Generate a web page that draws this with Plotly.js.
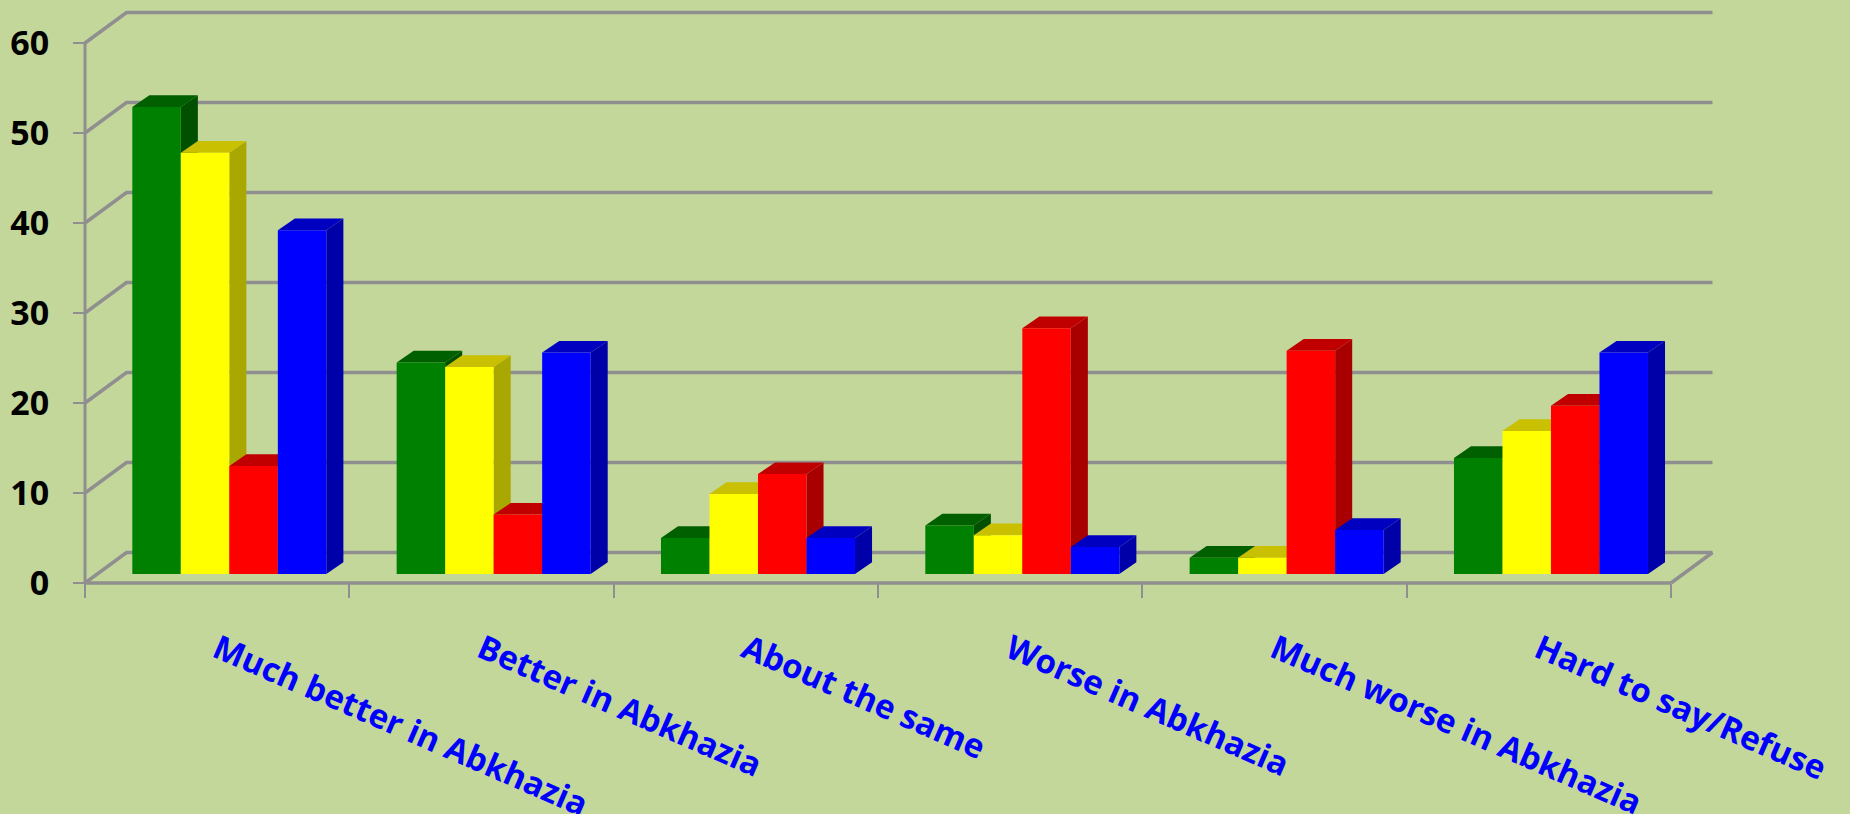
<!DOCTYPE html>
<html>
<head>
<meta charset="utf-8">
<script src="https://cdn.plot.ly/plotly-3.0.1.min.js"></script>
<style>html,body{margin:0;padding:0;background:#C4D79B;overflow:hidden}#chart{width:1850px;height:814px}</style>
</head>
<body>
<div id="chart"></div>
<script>
// Survey answers, percent of respondents per category
const categories = ['Much better in Abkhazia', 'Better in Abkhazia', 'About the same',
                    'Worse in Abkhazia', 'Much worse in Abkhazia', 'Hard to say/Refuse'];
const seriesGreen  = [51.9, 23.5, 4, 5.4, 1.8, 12.9];
const seriesYellow = [46.8, 23, 8.9, 4.3, 1.8, 15.9];
const seriesRed    = [12, 6.6, 11.1, 27.3, 24.8, 18.7];
const seriesBlue   = [38.2, 24.6, 4, 3, 4.9, 24.6];
const yTicks = [0, 10, 20, 30, 40, 50, 60];

const faceColors = [
  {front: '#008000', top: '#006000', side: '#005000', values: seriesGreen},
  {front: '#FFFF00', top: '#C8C000', side: '#A8A800', values: seriesYellow},
  {front: '#FF0000', top: '#C00000', side: '#A80000', values: seriesRed},
  {front: '#0000FF', top: '#0000C0', side: '#0000A8', values: seriesBlue}
];

// Oblique projection, in axis units
const wallDx = 0.157, wallDy = 3.39;     // depth of the back wall
const barDx = 0.0645, barDy = 1.3;       // depth of a bar
const barBase = 1;                       // bars stand part way into the floor
const barWidth = 0.1835, groupStart = 0.179;
const gridColor = '#8F8F8F';

// The axes fill the whole page, with the front corner of the box placed by the ranges
const pageW = 1850, pageH = 814, originX = 85, originY = 583;
const pxPerCategory = 264.33, pxPerUnit = 9;
const xRange = [-originX / pxPerCategory, (pageW - originX) / pxPerCategory];
const yRange = [-(pageH - originY) / pxPerUnit, originY / pxPerUnit];

const traces = [];

function wallLine(xs, ys, width) {
  traces.push({type: 'scatter', mode: 'lines', x: xs, y: ys,
    line: {color: gridColor, width: width}, hoverinfo: 'skip', showlegend: false});
}

// Back wall gridlines with the diagonals running to the front axis
yTicks.forEach(t => {
  wallLine([0, wallDx, 6 + wallDx], [t, t + wallDy, t + wallDy], 3.5);
});
wallLine([6, 6 + wallDx], [0, wallDy], 3.5);
wallLine([0, 0], [0, 60], 3);
wallLine([0, 6], [0, 0], 3.5);

function polygonTrace(polys, color) {
  const xs = [], ys = [];
  polys.forEach(p => {
    p.forEach(c => { xs.push(c[0]); ys.push(c[1]); });
    xs.push(null); ys.push(null);
  });
  traces.push({type: 'scatter', mode: 'lines', x: xs, y: ys, fill: 'toself', fillcolor: color,
    line: {width: 0, color: color}, hoverinfo: 'skip', showlegend: false});
}

// Depth faces first, series by series, so later series cover earlier ones
faceColors.forEach((s, k) => {
  const sides = [], tops = [];
  s.values.forEach((v, i) => {
    const l = i + groupStart + k * barWidth, r = l + barWidth, h = barBase + v;
    sides.push([[r, barBase], [r + barDx, barBase + barDy], [r + barDx, h + barDy], [r, h]]);
    tops.push([[l, h], [l + barDx, h + barDy], [r + barDx, h + barDy], [r, h]]);
  });
  polygonTrace(sides, s.side);
  polygonTrace(tops, s.top);
});

// Front faces live on an overlay subplot so they sit above the depth faces
faceColors.forEach((s, k) => {
  traces.push({type: 'bar', xaxis: 'x2', yaxis: 'y2',
    x: categories.map((c, i) => i + groupStart + (k + 0.5) * barWidth),
    y: s.values, base: barBase, width: barWidth,
    marker: {color: s.front, line: {width: 0}}, hoverinfo: 'skip', showlegend: false});
});

const layout = {
  width: pageW, height: pageH,
  margin: {l: 0, r: 0, t: 0, b: 0, pad: 0},
  paper_bgcolor: '#C4D79B', plot_bgcolor: 'rgba(0,0,0,0)',
  barmode: 'overlay', showlegend: false,
  font: {family: '"Open Sans", sans-serif'},
  xaxis: {
    type: 'linear', range: xRange, fixedrange: true, showgrid: false, zeroline: false,
    showline: false, anchor: 'free', position: (pageH - originY) / pageH,
    tickmode: 'array', tickvals: categories.map((c, i) => i + 0.5), ticktext: categories,
    ticks: '', tickangle: 23.5, ticklabelstandoff: 40, automargin: false,
    tickfont: {family: '"Open Sans", sans-serif', size: 33, color: '#0000FF', weight: 700},
    minor: {tickmode: 'array', tickvals: [0, 1, 2, 3, 4, 5, 6], ticks: 'outside', ticklen: 14,
            tickwidth: 2, tickcolor: gridColor, showgrid: false}
  },
  yaxis: {
    range: yRange, fixedrange: true, showgrid: false, zeroline: false,
    showline: false, anchor: 'free', position: originX / pageW,
    tickmode: 'array', tickvals: yTicks,
    ticks: 'outside', ticklen: 12, tickwidth: 2.5, tickcolor: gridColor,
    ticklabelstandoff: 17, automargin: false,
    tickfont: {family: '"Open Sans", sans-serif', size: 34, color: '#000000', weight: 700}
  },
  xaxis2: {overlaying: 'x', range: xRange, visible: false, fixedrange: true},
  yaxis2: {overlaying: 'y', range: yRange, visible: false, fixedrange: true}
};

Plotly.newPlot('chart', traces, layout, {displayModeBar: false, staticPlot: true});
</script>
</body>
</html>
